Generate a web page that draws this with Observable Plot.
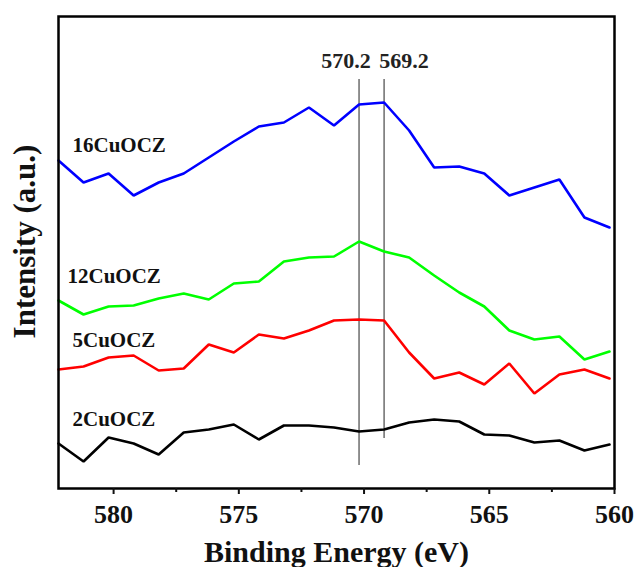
<!DOCTYPE html>
<html>
<head>
<meta charset="utf-8">
<script src="https://cdn.jsdelivr.net/npm/d3@7"></script>
<script src="https://cdn.jsdelivr.net/npm/@observablehq/plot@0.6"></script>
<style>
  html, body { margin: 0; padding: 0; background: #fff; }
</style>
</head>
<body>
<div id="chart"></div>
<script>
// Binding energies (eV), high to low
const energies = [582.2, 581.2, 580.2, 579.2, 578.2, 577.2, 576.2, 575.2, 574.2, 573.2, 572.2, 571.2,
                  570.2, 569.2, 568.2, 567.2, 566.2, 565.2, 564.2, 563.2, 562.2, 561.2, 560.2];
// Intensities (a.u.), offset per sample
const cu16 = [328, 306, 315, 293, 306, 315, 331, 347, 362, 366, 381, 363, 384, 386, 358, 321, 322, 315, 293, 301, 309, 271, 261];
const cu12 = [188, 174, 182, 183, 190, 195, 189, 205, 207, 227, 231, 232, 247, 237, 231, 213, 196, 182, 158, 149, 152, 129, 137];
const cu5  = [119, 122, 131, 133, 118, 120, 144, 136, 154, 150, 158, 168, 169, 168, 136, 110, 116, 104, 125, 95, 114, 119, 110];
const cu2  = [45, 27, 51, 45, 34, 56, 59, 64, 49, 63, 63, 61, 57, 59, 66, 69, 67, 54, 53, 46, 48, 38, 44];
const seriesNames = ["16CuOCZ", "12CuOCZ", "5CuOCZ", "2CuOCZ"];
const seriesColors = ["#0000ff", "#00ff00", "#ff0000", "#000000"];
const peaks = [570.2, 569.2];
const majorTicks = [580, 575, 570, 565, 560];
const minorTicks = [577.5, 572.5, 567.5, 562.5];

const seriesValues = [cu16, cu12, cu5, cu2];
const rows = seriesNames.flatMap((name, i) =>
  energies.map((e, j) => ({ name, energy: e, intensity: seriesValues[i][j] })));
const first = seriesNames.map((name, i) => ({ name, energy: energies[0], intensity: seriesValues[i][0] }));

const font = "'Liberation Serif', 'Times New Roman', serif";

const labelMark = (i, dx, dy) => Plot.text([first[i]], {
  x: "energy", y: "intensity", text: "name", dx, dy,
  textAnchor: "start", lineAnchor: "middle", fontSize: 21, fontWeight: "bold", fill: "#111"
});

const chart = Plot.plot({
  width: 636,
  height: 567,
  marginLeft: 58,
  marginRight: 22,
  marginTop: 16,
  marginBottom: 79,
  style: { fontFamily: font, background: "#fff", color: "#111" },
  x: { domain: [582.2, 560], axis: null },
  y: { domain: [0, 472], axis: null },
  color: { domain: seriesNames, range: seriesColors },
  marks: [
    Plot.ruleX([peaks[0]], { y1: 23, y2: 409, stroke: "#555", strokeWidth: 1.3 }),
    Plot.ruleX([peaks[1]], { y1: 50, y2: 409, stroke: "#555", strokeWidth: 1.3 }),
    Plot.line(rows, { x: "energy", y: "intensity", z: "name", stroke: "name", strokeWidth: 2.6, strokeLinejoin: "miter" }),
    Plot.text([peaks[0]], { x: d => d, frameAnchor: "top", dy: 44, dx: -13, text: d => d.toFixed(1),
      lineAnchor: "middle", fontSize: 22, fontWeight: "bold", fill: "#222" }),
    Plot.text([peaks[1]], { x: d => d, frameAnchor: "top", dy: 44, dx: 20, text: d => d.toFixed(1),
      lineAnchor: "middle", fontSize: 22, fontWeight: "bold", fill: "#222" }),
    labelMark(0, 14, -15),
    labelMark(1, 9, -24),
    labelMark(2, 14, -29),
    labelMark(3, 14, -24),
    Plot.frame({ stroke: "#000", strokeWidth: 2.5 }),
    Plot.axisX({ ticks: majorTicks, tickSize: 6, tickPadding: 10, strokeWidth: 2,
      fontSize: 26, fontWeight: "bold", tickFormat: d => String(d), label: null }),
    Plot.axisX({ ticks: minorTicks, tickSize: 4, strokeWidth: 2, text: null, label: null }),
    Plot.text(["Binding Energy (eV)"], { frameAnchor: "bottom", dy: 64, textAnchor: "middle",
      lineAnchor: "middle", fontSize: 30, fontWeight: "bold", fill: "#111" }),
    Plot.text(["Intensity (a.u.)"], { frameAnchor: "left", dx: -33, dy: -11, rotate: -90,
      textAnchor: "middle", lineAnchor: "middle", fontSize: 31, fontWeight: "bold", fill: "#111" })
  ]
});
document.getElementById("chart").appendChild(chart);
</script>
</body>
</html>
